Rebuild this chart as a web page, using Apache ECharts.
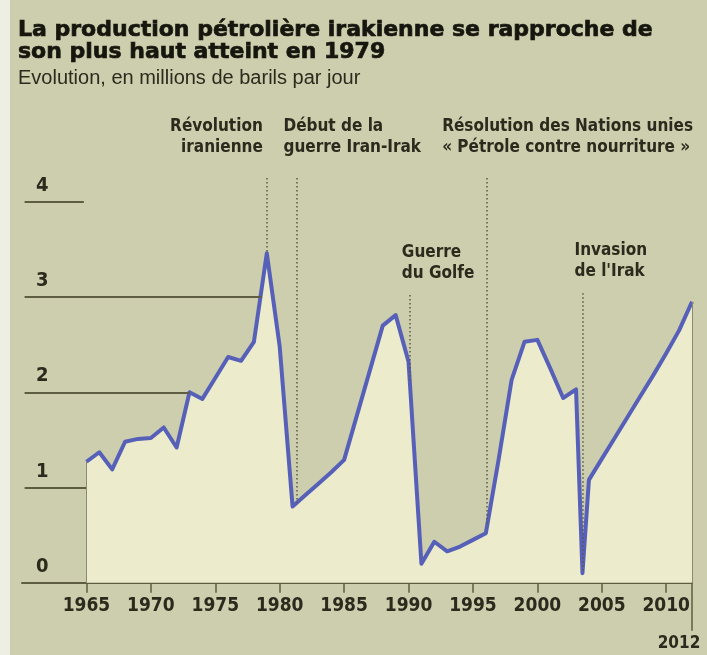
<!DOCTYPE html>
<html><head><meta charset="utf-8">
<script src="https://cdn.jsdelivr.net/npm/echarts@6/dist/echarts.min.js"></script>
<style>
html,body{margin:0;padding:0;}
body{width:707px;height:655px;background:linear-gradient(to right,#eeeee4 0,#eeeee4 10px,#cccead 10px);}
#c{width:707px;height:655px;}
</style></head><body><div id="c"></div>
<script>
// ---- data ----
const years = [1965,1966,1967,1968,1969,1970,1971,1972,1973,1974,1975,1976,1977,1978,1979,1980,1981,1982,1983,1984,1985,1986,1987,1988,1989,1990,1991,1992,1993,1994,1995,1996,1997,1998,1999,2000,2001,2002,2003,2003.5,2004,2005,2006,2007,2008,2009,2010,2011,2012];
const production = [1.27,1.37,1.19,1.48,1.51,1.52,1.63,1.42,2.00,1.93,2.15,2.37,2.33,2.53,3.46,2.48,0.80,0.92,1.04,1.16,1.29,1.76,2.23,2.70,2.81,2.32,0.20,0.43,0.33,0.38,0.45,0.52,1.30,2.13,2.53,2.55,2.25,1.94,2.03,0.10,1.08,1.30,1.52,1.74,1.96,2.18,2.41,2.65,2.95];
const xTickLabels = [1965,1970,1975,1980,1985,1990,1995,2000,2005,2010];
const lastYearLabel = 2012;
const yTickLabels = [0,1,2,3,4];
const gridLevels = [1,2,3,4];
const gridEndYears = [1965,1973,1978.6,1964.8];
const eventYears = [1979,1981.3,1990.1,1996.1,2003.5];
const eventTops = [4.25,4.25,3.02,4.25,3.04];
const eventLabels = ['Révolution\niranienne','Début de la\nguerre Iran-Irak','Guerre\ndu Golfe','Résolution des Nations unies\n« Pétrole contre nourriture »','Invasion\nde l\'Irak'];
const eventLabelAlign = ['right','left','left','left','left'];
const eventLabelShift = [[-4,-20],[-13,-20],[-8,-11],[-45,-20],[-8,-11]];

// ---- helpers ----
function valueAt(y){
  for(let i=0;i<years.length-1;i++){
    if(y>=years[i] && y<=years[i+1]){
      const t=(y-years[i])/(years[i+1]-years[i]);
      return production[i]+t*(production[i+1]-production[i]);
    }
  }
  return production[production.length-1];
}
const INK='#2b2a1d', RULE='#5e5d43';
const narrow="'Liberation Sans Narrow','DejaVu Sans Condensed','Roboto',sans-serif";
const chart = echarts.init(document.getElementById('c'), null, {renderer:'canvas'});
const mainData = years.map((y,i)=>[y,production[i]]);

chart.setOption({
  animation:false,
  backgroundColor:'transparent',
  title:{
    left:18, top:19, padding:0,
    text:'La production pétrolière irakienne se rapproche de\nson plus haut atteint en 1979',
    textStyle:{fontFamily:"'DejaVu Sans',sans-serif",fontWeight:'bold',fontSize:22,lineHeight:22,color:'#17160e',
      textBorderColor:'#17160e',textBorderWidth:0.7},
    subtext:'Evolution, en millions de barils par jour',
    subtextStyle:{fontFamily:"'Liberation Sans',sans-serif",fontSize:20,color:INK,lineHeight:20},
    itemGap:5
  },
  grid:{left:22,right:15,top:178,bottom:72.3,containLabel:false},
  xAxis:[{
    type:'value', min:1960, max:2012,
    axisLine:{show:true,lineStyle:{color:RULE,width:2}},
    axisTick:{show:true,length:10,lineStyle:{color:RULE,width:1.5},customValues:xTickLabels},
    axisLabel:{show:true,customValues:xTickLabels.concat([lastYearLabel]),margin:14,
      fontFamily:narrow,fontWeight:'bold',fontSize:19,color:INK,
      formatter:v=> v===lastYearLabel ? '{e|'+v+'}' : String(v),
      rich:{e:{fontFamily:narrow,fontWeight:'bold',fontSize:17,color:INK,padding:[38,26,0,0]}}},
    splitLine:{show:false}
  },{
    type:'value', min:1960, max:2012, position:'bottom',
    axisLine:{show:false},
    axisTick:{show:true,length:48,customValues:[lastYearLabel],lineStyle:{color:RULE,width:1.5}},
    axisLabel:{show:false},splitLine:{show:false}
  }],
  yAxis:{
    type:'value', min:0, max:4.25, interval:1,
    axisLine:{show:false}, axisTick:{show:false}, splitLine:{show:false},
    axisLabel:{inside:true,margin:14,verticalAlign:'bottom',padding:[0,0,6,0],
      fontFamily:narrow,fontWeight:'bold',fontSize:20,color:INK,
      formatter:v=> yTickLabels.includes(v) ? String(v) : ''}
  },
  series:[
    { // partial gridlines
      type:'line', data:[], z:1, clip:false, silent:true,
      markLine:{silent:true,symbol:['none','none'],label:{show:false},
        lineStyle:{color:RULE,width:2,type:'solid'},
        data:gridLevels.map((v,i)=>[{coord:[1960.2,v]},{coord:[gridEndYears[i],v]}])}
    },
    {
      type:'line', data:mainData, z:3, clip:false, showSymbol:false, symbol:'none',
      lineStyle:{color:'#5760b8',width:4,join:'round'},
      areaStyle:{color:'#ecebcc',opacity:1,origin:'start'},
      markLine:{silent:true,symbol:['none','none'],label:{show:false},
        lineStyle:{color:'#8a8974',width:1,type:'solid'},
        data:[
          [{coord:[years[0],0]},{coord:[years[0],production[0]]}],
          [{coord:[years[years.length-1],0]},{coord:[years[years.length-1],production[production.length-1]]}]
        ]}
    },
    { // events
      type:'line', data:[], z:4, clip:false, silent:true,
      markLine:{silent:true,symbol:['none','none'],label:{show:false},
        lineStyle:{color:'#5a5947',width:1.5,type:[1.5,2.5]},
        data:eventYears.map((y,i)=>[{coord:[y,eventTops[i]]},{coord:[y,valueAt(y)]}])},
      markPoint:{silent:true,symbol:'circle',symbolSize:0,
        data:eventYears.map((y,i)=>({coord:[y,eventTops[i]],
          label:{show:true,formatter:eventLabels[i],position:eventLabelShift[i],align:eventLabelAlign[i],verticalAlign:'bottom',
            fontFamily:narrow,fontWeight:'bold',fontSize:17,lineHeight:21,color:INK}}))}
    }
  ]
});
</script></body></html>
